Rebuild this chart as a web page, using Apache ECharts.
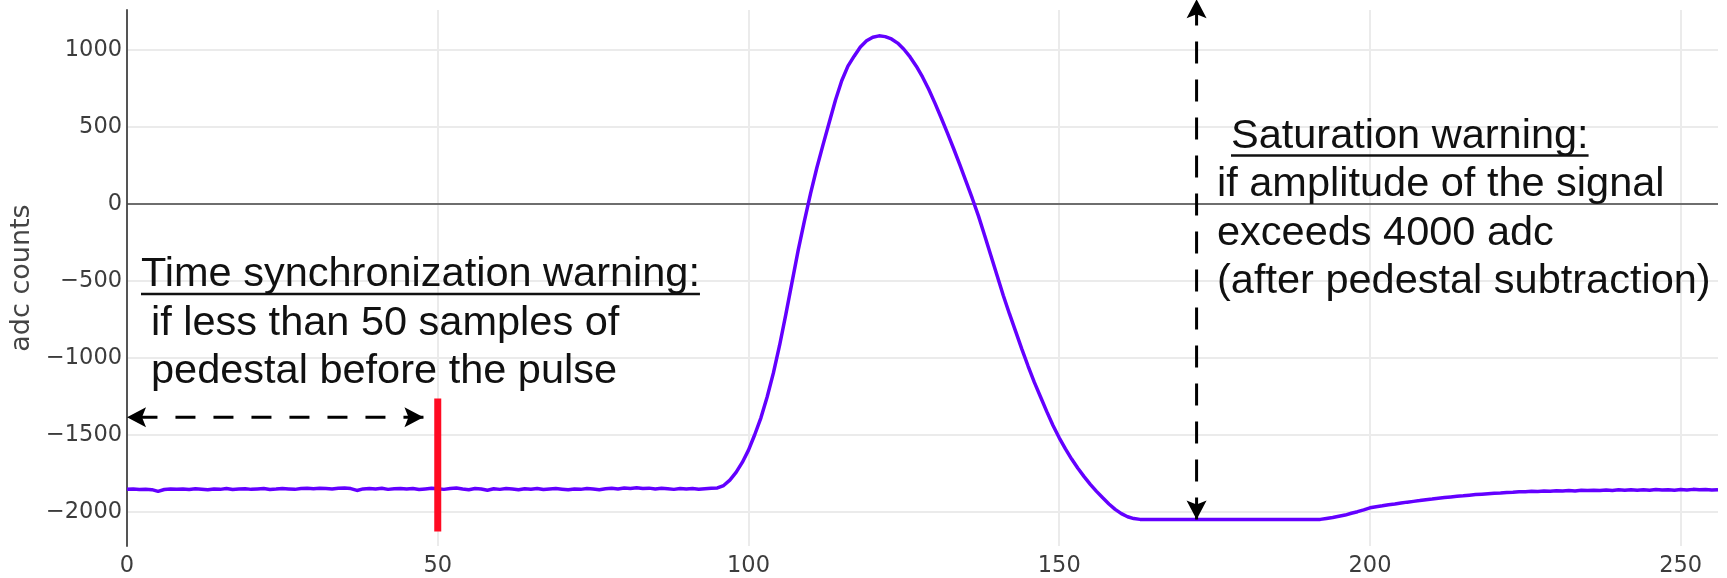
<!DOCTYPE html>
<html>
<head>
<meta charset="utf-8">
<title>adc waveform</title>
<script src="https://cdn.jsdelivr.net/npm/echarts@6/dist/echarts.min.js"></script>
<style>
  html, body { margin: 0; padding: 0; background: #fff; }
  #chart { width: 1727px; height: 578px; }
</style>
</head>
<body>
<div id="chart"></div>
<script>
// ADC samples of one digitised pulse (sample index 0..256)
const samples = [
  -1855,-1853,-1856,-1854,-1857,-1868,-1856,-1852,-1855,-1853,
  -1856,-1851,-1854,-1857,-1852,-1855,-1850,-1856,-1853,-1851,
  -1855,-1852,-1850,-1856,-1853,-1849,-1852,-1855,-1850,-1848,
  -1851,-1847,-1850,-1853,-1848,-1846,-1850,-1862,-1852,-1849,
  -1852,-1848,-1855,-1851,-1849,-1853,-1850,-1856,-1852,-1848,
  -1851,-1855,-1849,-1846,-1852,-1857,-1850,-1853,-1861,-1851,
  -1855,-1850,-1853,-1858,-1851,-1854,-1849,-1856,-1852,-1850,
  -1854,-1858,-1852,-1855,-1850,-1853,-1857,-1851,-1848,-1852,
  -1846,-1849,-1845,-1850,-1847,-1852,-1848,-1851,-1855,-1849,
  -1853,-1850,-1854,-1851,-1848,-1846,-1830,-1795,-1745,-1680,
  -1600,-1500,-1390,-1255,-1100,-920,-720,-510,-300,-110,
  70,235,385,530,675,800,895,960,1020,1060,
  1083,1092,1087,1072,1045,1005,955,895,825,745,
  655,560,462,360,255,147,37,-78,-205,-335,
  -465,-595,-715,-830,-945,-1055,-1160,-1255,-1350,-1440,
  -1520,-1592,-1658,-1718,-1772,-1822,-1868,-1910,-1950,-1985,
  -2013,-2033,-2045,-2050,-2050,-2050,-2050,-2050,-2050,-2050,
  -2050,-2050,-2050,-2050,-2050,-2050,-2050,-2050,-2050,-2050,
  -2050,-2050,-2050,-2050,-2050,-2050,-2050,-2050,-2050,-2050,
  -2050,-2050,-2050,-2044,-2038,-2030,-2022,-2010,-2000,-1988,
  -1975,-1968,-1962,-1955,-1950,-1944,-1938,-1933,-1928,-1922,
  -1918,-1913,-1908,-1904,-1900,-1897,-1893,-1889,-1886,-1883,
  -1880,-1878,-1875,-1874,-1871,-1870,-1868,-1869,-1866,-1867,
  -1864,-1866,-1863,-1865,-1861,-1863,-1860,-1863,-1859,-1862,
  -1858,-1861,-1857,-1860,-1858,-1861,-1856,-1859,-1857,-1860,
  -1856,-1859,-1855,-1858,-1856,-1859,-1857
];

// Axis extents
const xRange = [0, 256];
const yRange = [-2223, 1260];
const yTitle = 'adc counts';

// Pedestal window annotation (sample range and level of the arrow), cut marker
const syncWindow = [0, 47.7];
const syncArrowLevel = -1387;
const syncCutSample = 50;
const syncCutSpan = [-1265, -2128];

// Saturation annotation: sample and vertical extent of the arrow
const satSample = 172.1;
const satSpan = [-2050, 1330];

const syncNote = ['Time synchronization warning:', 'if less than 50 samples of', 'pedestal before the pulse'];
const satNote = ['Saturation warning:', 'if amplitude of the signal', 'exceeds 4000 adc', '(after pedestal subtraction)'];

const chart = echarts.init(document.getElementById('chart'), null, { renderer: 'canvas' });

const tickFont = 'DejaVu Sans';
const minus = v => (v < 0 ? '\u2212' + Math.abs(v) : String(v));

chart.setOption({
  animation: false,
  backgroundColor: '#fff',
  grid: { left: 125, right: 9, top: 10, bottom: 31 },
  xAxis: {
    type: 'value',
    min: xRange[0],
    max: xRange[1],
    interval: 50,
    axisLine: { show: false },
    axisTick: { show: false },
    axisLabel: { color: '#3c3c3c', fontFamily: tickFont, fontSize: 22.5, margin: 9, showMaxLabel: false },
    splitLine: { show: true, showMinLine: false, showMaxLine: false, lineStyle: { color: '#ebebeb', width: 2 } }
  },
  yAxis: {
    type: 'value',
    min: yRange[0],
    max: yRange[1],
    splitNumber: 7,
    name: yTitle,
    nameLocation: 'middle',
    nameRotate: 90,
    nameGap: 77,
    nameTextStyle: { color: '#444', fontFamily: tickFont, fontSize: 27 },
    axisLine: { show: true, lineStyle: { color: '#555', width: 2 } },
    axisTick: { show: false },
    axisLabel: {
      color: '#3c3c3c', fontFamily: tickFont, fontSize: 22.5, margin: 5,
      showMinLabel: false, showMaxLabel: false,
      formatter: minus
    },
    splitLine: { show: true, showMinLine: false, showMaxLine: false, lineStyle: { color: '#ebebeb', width: 2 } }
  },
  series: [{
    type: 'line',
    data: samples.map((v, i) => [i, v]),
    showSymbol: false,
    lineStyle: { color: '#6300ff', width: 3.5 },
    z: 3,
    markLine: {
      silent: true,
      symbol: 'none',
      label: { show: false },
      lineStyle: { color: '#444', width: 1.5, type: 'solid' },
      data: [{ yAxis: 0 }],
      z: 2
    }
  }]
});

// Annotations placed through the grid's own coordinate conversion
const px = p => chart.convertToPixel({ gridIndex: 0 }, p);

function arrowHead(tip, dir, len, half) {
  const n = [-dir[1], dir[0]];
  const back = [tip[0] - dir[0] * len, tip[1] - dir[1] * len];
  const notch = [tip[0] - dir[0] * (len - 4), tip[1] - dir[1] * (len - 4)];
  return {
    type: 'polygon',
    z: 20,
    shape: { points: [tip, [back[0] + n[0] * half, back[1] + n[1] * half], notch, [back[0] - n[0] * half, back[1] - n[1] * half]] },
    style: { fill: '#000' }
  };
}

function dashedArrow(a, b, dash) {
  const dx = b[0] - a[0], dy = b[1] - a[1];
  const len = Math.hypot(dx, dy);
  const d = [dx / len, dy / len];
  return [
    {
      type: 'line', z: 19,
      shape: { x1: b[0], y1: b[1], x2: a[0] + d[0] * 14, y2: a[1] + d[1] * 14 },
      style: { stroke: '#000', lineWidth: 3, lineDash: dash }
    },
    arrowHead(a, [-d[0], -d[1]], 19, 10),
    arrowHead(b, d, 19, 10)
  ];
}

const measure = (() => {
  const c = document.createElement('canvas').getContext('2d');
  return (text, font) => { c.font = font; return c.measureText(text).width; };
})();

const noteFont = '41.5px "Liberation Sans", Arial, sans-serif';
const lineGap = 48.5;

function noteBlock(lines, headX, bodyX, firstBaseline) {
  const out = [];
  lines.forEach((t, i) => {
    const x = i === 0 ? headX : bodyX;
    const base = firstBaseline + i * lineGap;
    out.push({
      type: 'text', z: 30, x: x, y: base - 13,
      style: { text: t, font: noteFont, fill: '#111', align: 'left', verticalAlign: 'middle' }
    });
    if (i === 0) {
      const w = measure(t, noteFont);
      out.push({
        type: 'line', z: 30,
        shape: { x1: x, y1: base + 6, x2: x + w, y2: base + 6 },
        style: { stroke: '#111', lineWidth: 2.5 }
      });
    }
  });
  return out;
}

const cutTop = px([syncCutSample, syncCutSpan[0]]);
const cutBottom = px([syncCutSample, syncCutSpan[1]]);

const graphics = [].concat(
  dashedArrow(px([syncWindow[0], syncArrowLevel]), px([syncWindow[1], syncArrowLevel]), [20, 18]),
  dashedArrow(px([satSample, satSpan[1]]), px([satSample, satSpan[0]]), [22, 16]),
  [{
    type: 'line', z: 18,
    shape: { x1: cutTop[0], y1: cutTop[1], x2: cutBottom[0], y2: cutBottom[1] },
    style: { stroke: '#ff0a22', lineWidth: 7 }
  }],
  noteBlock(syncNote, 141, 151, 288),
  noteBlock(satNote, 1231, 1217, 149.5)
);

chart.setOption({ graphic: graphics });
</script>
</body>
</html>
